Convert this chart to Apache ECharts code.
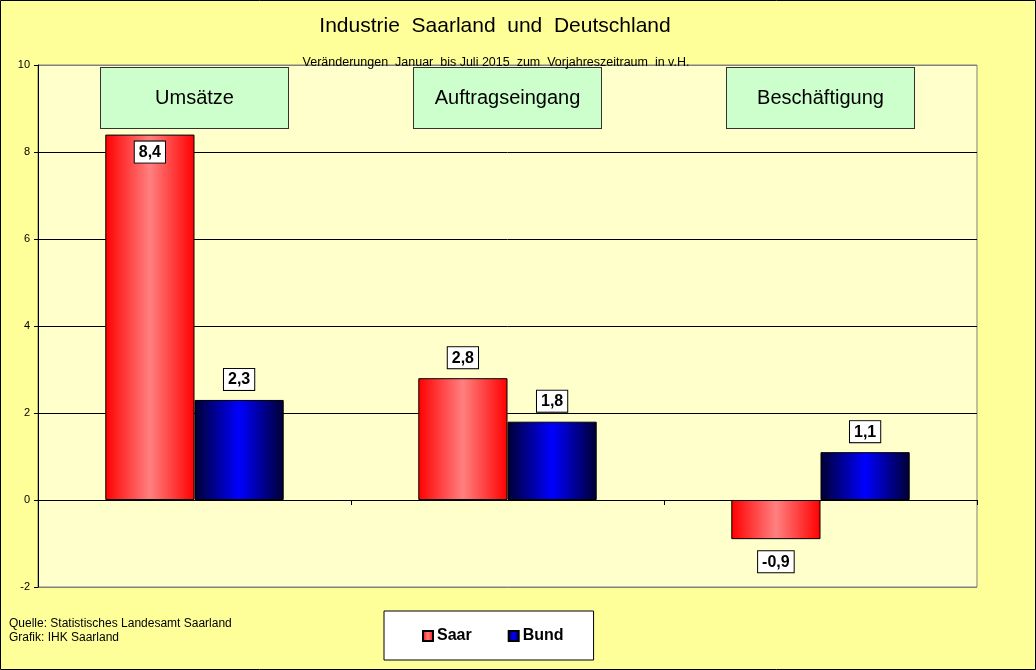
<!DOCTYPE html>
<html>
<head>
<meta charset="utf-8">
<script src="https://cdn.jsdelivr.net/npm/echarts@6/dist/echarts.min.js"></script>
<style>
	html, body { margin: 0; padding: 0; background: #ffff99; }
	#main { width: 1036px; height: 670px; }
</style>
</head>
<body>
<div id="main"></div>
<script>
	// Industrie Saarland und Deutschland, Jan-Jul 2015 ggü. Vorjahr in v.H.
	var categories = ['Umsätze', 'Auftragseingang', 'Beschäftigung'];
	var saar = [8.4, 2.8, -0.9];
	var bund = [2.3, 1.8, 1.1];
	var yMin = -2, yMax = 10, yStep = 2;

	var FONT = 'Arial, "Liberation Sans", sans-serif';

	function fmt(p) {
		return String(p.value).replace('.', ',');
	}

	// Label box sits inside the bar when the bar is tall, otherwise outside
	function labelFor(v) {
		if (v < 0) return { position: 'bottom', distance: 12 };
		if (v > 5) return { position: 'insideTop', distance: 7 };
		return { position: 'top', distance: 10 };
	}

	function items(list) {
		return list.map(function (v) {
			return { value: v, label: labelFor(v) };
		});
	}

	var red = new echarts.graphic.LinearGradient(0, 0, 1, 0, [
		{ offset: 0, color: '#ff0000' },
		{ offset: 0.5, color: '#ff8080' },
		{ offset: 1, color: '#ff0000' }
	]);
	var blue = new echarts.graphic.LinearGradient(0, 0, 1, 0, [
		{ offset: 0, color: '#000033' },
		{ offset: 0.5, color: '#0000ff' },
		{ offset: 1, color: '#000033' }
	]);

	var valueLabel = {
		show: true,
		formatter: fmt,
		color: '#000',
		fontFamily: FONT,
		fontSize: 16,
		fontWeight: 'bold',
		backgroundColor: '#fff',
		borderColor: '#000',
		borderWidth: 1,
		padding: [3, 4, 2, 4]
	};

	var chart = echarts.init(document.getElementById('main'));
	var option = {
		backgroundColor: '#ffff99',
		animation: false,
		textStyle: { fontFamily: FONT },
		title: [
			{
				text: 'Industrie  Saarland  und  Deutschland',
				left: 490, top: 11, textAlign: 'center',
				textStyle: { fontSize: 21, fontWeight: 'normal', color: '#000', fontFamily: FONT }
			},
			{
				text: 'Veränderungen  Januar  bis Juli 2015  zum  Vorjahreszeitraum  in v.H.',
				left: 491, top: 51, textAlign: 'center',
				textStyle: { fontSize: 12.5, fontWeight: 'normal', color: '#000', fontFamily: FONT }
			},
			{
				text: 'Quelle: Statistisches Landesamt Saarland\nGrafik: IHK Saarland',
				left: 4, top: 612,
				textStyle: { fontSize: 12, fontWeight: 'normal', color: '#000', lineHeight: 14, fontFamily: FONT }
			}
		],
		legend: {
			data: ['Saar', 'Bund'],
			left: 384, top: 611,
			padding: [17, 30, 16, 38],
			itemGap: 36,
			itemWidth: 10, itemHeight: 10,
			icon: 'rect',
			backgroundColor: '#fff',
			borderColor: '#000',
			borderWidth: 1,
			borderRadius: 0,
			textStyle: { fontSize: 16, fontWeight: 'bold', color: '#000', fontFamily: FONT, padding: [0, 0, 0, -1] }
		},
		grid: {
			left: 38, right: 59, top: 65, bottom: 83,
			show: true,
			backgroundColor: '#ffffcc',
			borderColor: '#808080',
			borderWidth: 1
		},
		xAxis: [
			{
				type: 'category',
				data: categories,
				axisLine: { onZero: true, lineStyle: { color: '#000', width: 1 } },
				axisTick: { show: true, length: 5, lineStyle: { color: '#000' } },
				axisLabel: { show: false }
			},
			{
				type: 'category',
				data: categories,
				position: 'top',
				axisLine: { show: false },
				axisTick: { show: false },
				axisLabel: {
					inside: true,
					margin: 3,
					color: '#000',
					fontFamily: FONT,
					fontSize: 20,
					backgroundColor: '#ccffcc',
					borderColor: '#333',
					borderWidth: 1,
					width: 187,
					height: 60,
					lineHeight: 60,
					align: 'center'
				}
			}
		],
		yAxis: {
			type: 'value',
			min: yMin, max: yMax, interval: yStep,
			axisLine: { show: true, lineStyle: { color: '#000' } },
			axisTick: { show: true, length: 4, lineStyle: { color: '#000' } },
			axisLabel: { color: '#000', fontSize: 11, margin: 8, fontFamily: FONT },
			splitLine: {
				show: true,
				lineStyle: { color: ['#808080', '#000', '#000', '#000', '#000', '#000', '#808080'], width: 1 }
			}
		},
		series: [
			{
				name: 'Saar',
				type: 'bar',
				barGap: '0%',
				barCategoryGap: '43%',
				itemStyle: { color: red, borderColor: '#000', borderWidth: 1 },
				label: valueLabel,
				data: items(saar)
			},
			{
				name: 'Bund',
				type: 'bar',
				itemStyle: { color: blue, borderColor: '#000', borderWidth: 1 },
				label: valueLabel,
				data: items(bund)
			}
		],
		graphic: [
			{
				type: 'rect', z: 100, silent: true,
				shape: { x: 0.5, y: 0.5, width: 1035, height: 669 },
				style: { fill: null, stroke: '#000', lineWidth: 1 }
			}
		]
	};
	chart.setOption(option);
</script>
</body>
</html>
